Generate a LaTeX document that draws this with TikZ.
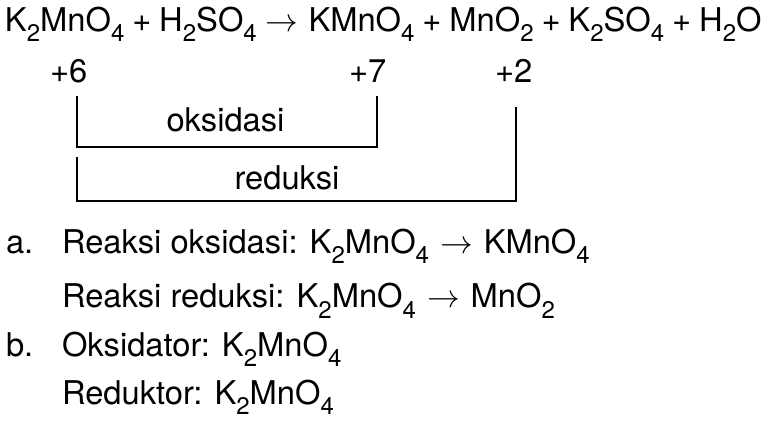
\RequirePackage{fix-cm}
\documentclass[tikz,border=0pt]{standalone}
\usepackage{fontspec}
\setmainfont{TeX Gyre Heros}
\newcommand\ssub[1]{\raisebox{-10pt}{\fontsize{24}{24}\selectfont #1}}
\newcommand\arr{\hspace{11pt}$\rightarrow$\hspace{11pt}}
\newcommand\tarr{\hspace{9pt}$\rightarrow$\hspace{10pt}}
\begin{document}
\begin{tikzpicture}[x=1pt,y=-1pt]
\useasboundingbox (0,0) rectangle (766,422);
\tikzset{
  txt/.style={anchor=base west, inner sep=0pt, outer sep=0pt, font=\fontsize{32.7}{38}\selectfont},
  bracket/.style={line width=1.1pt, black}
}
% equation
\node[txt] (eq) at (5,32) {\spaceskip=7.9pt K\ssub{2}MnO\ssub{4} + H\ssub{2}SO\ssub{4}\tarr KMnO\ssub{4} + MnO\ssub{2} + K\ssub{2}SO\ssub{4} + H\ssub{2}O};
% oxidation numbers
\node[txt] (n6) at (50,83) {+6};
\node[txt] (n7) at (349,83) {+7};
\node[txt] (n2) at (495,83) {+2};
% oksidasi bracket
\coordinate (o1) at (77,96);
\coordinate (o2) at (377,96);
\coordinate (ob) at (0,147);
\draw[bracket] (o1) -- (o1 |- ob) -- (o2 |- ob) -- (o2);
\node[txt, anchor=base] (oks) at (225.5,132) {oksidasi};
% reduksi bracket
\coordinate (r1) at (77,157);
\coordinate (r2) at (516,107);
\coordinate (rb) at (0,201);
\draw[bracket] (r1) -- (r1 |- rb) -- (r2 |- rb) -- (r2);
\node[txt, anchor=base] (red) at (287,190) {reduksi};
% answers
\node[txt] (la) at (6,254) {a.};
\node[txt] (a1) at (62,254) {Reaksi oksidasi: K\ssub{2}MnO\ssub{4}\arr KMnO\ssub{4}};
\node[txt] (a2) at (62,308) {Reaksi reduksi: K\ssub{2}MnO\ssub{4}\arr MnO\ssub{2}};
\node[txt] (lb) at (6,356) {b.};
\node[txt] (b1) at (62,356) {Oksidator: K\ssub{2}MnO\ssub{4}};
\node[txt] (b2) at (62,404) {Reduktor: K\ssub{2}MnO\ssub{4}};
\end{tikzpicture}
\end{document}
